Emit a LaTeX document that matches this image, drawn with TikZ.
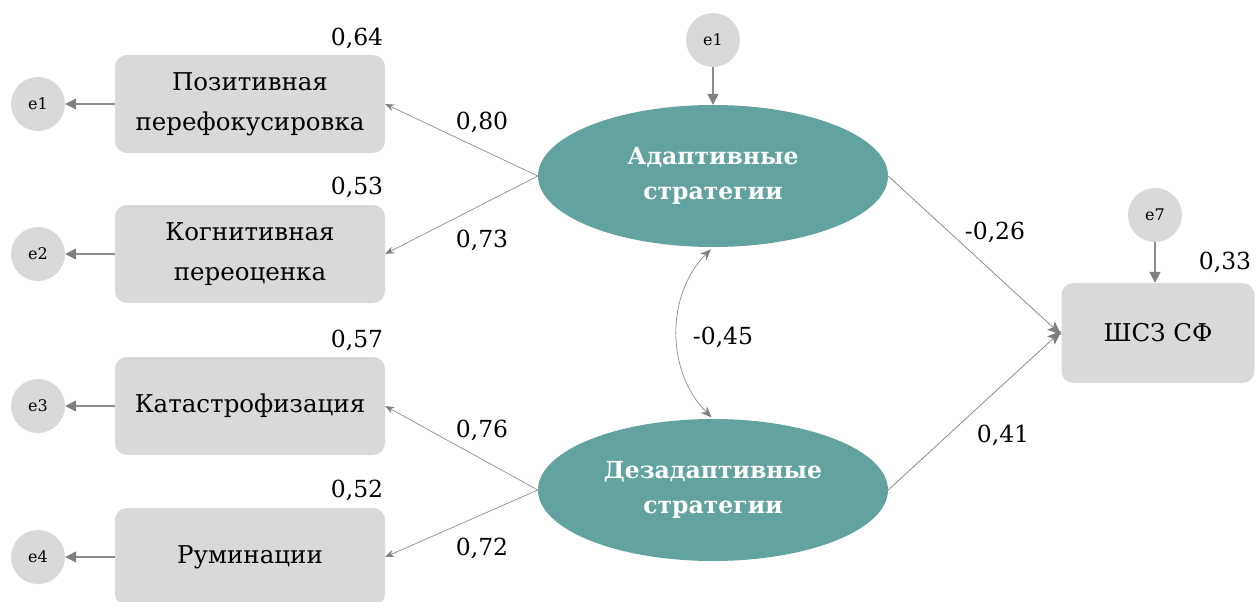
\documentclass[tikz,border=0pt]{standalone}
\usepackage{fontspec}
\setmainfont{DejaVu Serif}
\usetikzlibrary{arrows.meta,shapes.geometric}
\definecolor{teal1}{HTML}{62A39F}
\definecolor{boxgray}{HTML}{D9D9D9}
\definecolor{linegray}{HTML}{8C8C8C}
\definecolor{headgray}{HTML}{7F7F7F}
\tikzset{
  obsbox/.style={fill=boxgray, rounded corners=12pt, minimum width=270pt, minimum height=98pt, align=center, font=\fontsize{24.5}{40}\selectfont, inner sep=0pt},
  errc/.style={circle, fill=boxgray, minimum size=54pt, inner sep=0pt, font=\fontsize{16}{18}\selectfont},
  latent/.style={ellipse, fill=teal1, minimum width=350pt, minimum height=142pt, inner sep=0pt, align=center, text=white, font=\bfseries\fontsize{23.5}{35}\selectfont},
  errarrow/.style={draw=linegray, line width=1.2pt, -{Triangle[length=11pt,width=11pt,fill=headgray,color=headgray]}},
  patharrow/.style={draw=linegray, line width=0.7pt, -{Stealth[length=9pt,width=7pt,fill=headgray,color=headgray]}},
  bigarrow/.style={draw=linegray, line width=0.8pt, -{Stealth[length=14pt,width=11pt,inset=3pt,fill=headgray,color=headgray]}},
  lbl/.style={font=\fontsize{23.5}{26}\selectfont, inner sep=0pt}
}
\begin{document}
\begin{tikzpicture}[x=1pt,y=-1pt]
\useasboundingbox (0,0) rectangle (1258,602);
\clip (0,0) rectangle (1258,602);
% observed boxes
\node[obsbox] (b1) at (250,104) {Позитивная\\перефокусировка};
\node[obsbox] (b2) at (250,254) {Когнитивная\\переоценка};
\node[obsbox] (b3) at (250,406) {Катастрофизация};
\node[obsbox] (b4) at (250,557) {Руминации};
% error circles
\node[errc] (e1) at (38,104) {e1};
\node[errc] (e2) at (38,254) {e2};
\node[errc] (e3) at (38,406) {e3};
\node[errc] (e4) at (38,557) {e4};
% latents
\node[latent] (A) at (713,176) {Адаптивные\\стратегии};
\node[latent] (D) at (713,490) {Дезадаптивные\\стратегии};
\node[errc] (eA) at (713,40) {e1};
% outcome
\node[obsbox, minimum width=193pt, minimum height=100pt] (S) at (1158,333) {ШСЗ СФ};
\node[errc] (e7) at (1155,215) {e7};
% error arrows
\draw[errarrow] (b1.west) -- (e1.east);
\draw[errarrow] (b2.west) -- (e2.east);
\draw[errarrow] (b3.west) -- (e3.east);
\draw[errarrow] (b4.west) -- (e4.east);
\draw[errarrow] (eA.south) -- (A.north);
\draw[errarrow] (e7.south) -- (e7.south |- S.north);
% loadings
\draw[patharrow] (A.west) -- (b1.east);
\draw[patharrow] (A.west) -- (b2.east);
\draw[patharrow] (D.west) -- (b3.east);
\draw[patharrow] (D.west) -- (b4.east);
% structural
\coordinate (s1) at ([yshift=-2pt]S.west);
\coordinate (s2) at ([yshift=2pt]S.west);
\draw[bigarrow] (A.east) -- (s1);
\draw[bigarrow] (D.east) -- (s2);
% covariance
\draw[draw=linegray, line width=0.7pt, shorten <=3pt, shorten >=2pt, {Stealth[length=11pt,width=9pt,fill=headgray,color=headgray]}-{Stealth[length=11pt,width=9pt,fill=headgray,color=headgray]}] (A.south) to[bend right=45] (D.north);
% labels
\node[lbl] (l80) at (482,122) {0,80};
\node[lbl] (l73) at (482,240) {0,73};
\node[lbl] (l76) at (482,430) {0,76};
\node[lbl] (l72) at (482,548) {0,72};
\node[lbl] (l26) at (995,232) {-0,26};
\node[lbl] (l41) at (1003,435) {0,41};
\node[lbl] (l45) at (723,337) {-0,45};
\node[lbl] (r64) at (357,38) {0,64};
\node[lbl] (r53) at (357,187) {0,53};
\node[lbl] (r57) at (357,340) {0,57};
\node[lbl] (r52) at (357,490) {0,52};
\node[lbl] (r33) at (1225,262) {0,33};
\end{tikzpicture}
\end{document}
